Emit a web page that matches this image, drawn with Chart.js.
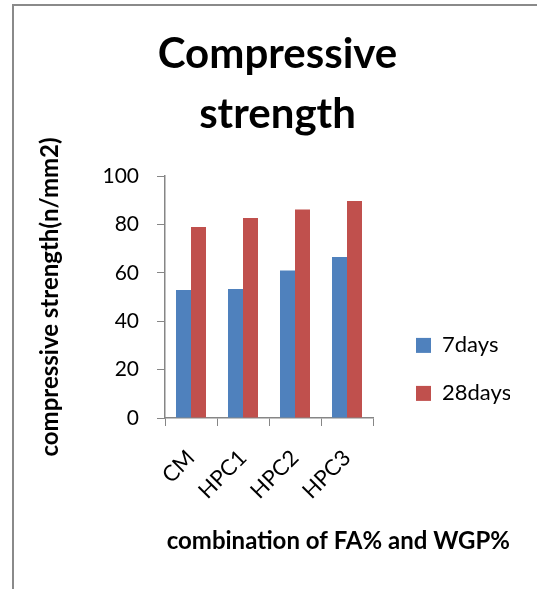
<!DOCTYPE html>
<html>
<head>
<meta charset="utf-8">
<script src="https://cdn.jsdelivr.net/npm/chart.js@4.4.1/dist/chart.umd.min.js"></script>
<style>
  html, body { margin: 0; padding: 0; background: #fff; overflow: hidden; }
  body { width: 537px; height: 589px; position: relative; }
  #frame { position: absolute; left: 12px; top: 4px; width: 700px; height: 800px;
           border-left: 2px solid #8a8a8a; border-top: 2px solid #8a8a8a; }
  canvas { position: absolute; left: 0; top: 0; }
</style>
</head>
<body>
<div id="frame"></div>
<canvas id="c" width="537" height="589"></canvas>
<script>
const categories = ['CM', 'HPC1', 'HPC2', 'HPC3'];
const days7 = [52.9, 53.3, 61.0, 66.5];
const days28 = [78.9, 82.6, 86.2, 89.7];
const seriesNames = ['7days', '28days'];
const chartTitle = ['Compressive', 'strength'];
const yTitle = 'compressive strength(n/mm2)';
const xTitle = 'combination of FA% and WGP%';

const FONT = 'Lato, "Open Sans", sans-serif';
const AXIS = '#868686';

new Chart(document.getElementById('c'), {
  type: 'bar',
  data: {
    labels: categories,
    datasets: [
      { label: seriesNames[0], data: days7, backgroundColor: '#4F81BD', borderWidth: 0 },
      { label: seriesNames[1], data: days28, backgroundColor: '#C0504D', borderWidth: 0 }
    ]
  },
  options: {
    responsive: false,
    animation: false,
    devicePixelRatio: 1,
    categoryPercentage: 0.577,
    barPercentage: 1.0,
    layout: { padding: { left: 45, right: 27, top: 0, bottom: 0 } },
    plugins: {
      title: {
        display: true,
        text: chartTitle,
        color: '#000',
        font: { family: FONT, size: 42, weight: 'bold', lineHeight: 60 / 42 },
        padding: { top: 24, bottom: 32 }
      },
      subtitle: {
        display: true,
        position: 'bottom',
        align: 'end',
        text: xTitle,
        color: '#000',
        font: { family: FONT, size: 24, weight: 'bold', lineHeight: 1.2 },
        padding: { top: 0, bottom: 33.6 }
      },
      legend: {
        display: true,
        position: 'right',
        align: 'start',
        fullSize: true,
        maxWidth: 120,
        title: { display: true, text: '', font: { size: 12 }, padding: { top: 294, bottom: 0 } },
        labels: {
          color: '#000',
          font: { family: FONT, size: 22 },
          boxWidth: 15,
          boxHeight: 15,
          padding: 26
        }
      },
      tooltip: { enabled: false }
    },
    scales: {
      x: {
        grid: { display: true, drawOnChartArea: false, color: AXIS, tickLength: 8, offset: true },
        border: { display: true, color: AXIS, width: 1.5 },
        ticks: {
          color: '#000',
          font: { family: FONT, size: 22 },
          minRotation: 45, maxRotation: 45,
          autoSkip: false,
          padding: 19
        },
        afterFit: s => { s.height = 108.6; }
      },
      y: {
        min: 0, max: 100,
        grid: { display: true, drawOnChartArea: false, color: AXIS, tickLength: 8 },
        border: { display: true, color: AXIS, width: 1.5 },
        ticks: {
          stepSize: 20,
          color: '#000',
          font: { family: FONT, size: 21 },
          padding: 18
        },
        title: {
          display: true,
          text: yTitle,
          color: '#000',
          font: { family: FONT, size: 24, weight: 'bold', lineHeight: 1.2 },
          padding: { top: -8.8, bottom: 0 }
        },
        afterFit: s => { s.width = 120; }
      },
      y2: {
        type: 'linear',
        position: 'right',
        display: true,
        grid: { display: false },
        border: { display: false },
        ticks: { display: false },
        afterFit: s => { s.width = 17; }
      }
    }
  }
});
</script>
</body>
</html>
